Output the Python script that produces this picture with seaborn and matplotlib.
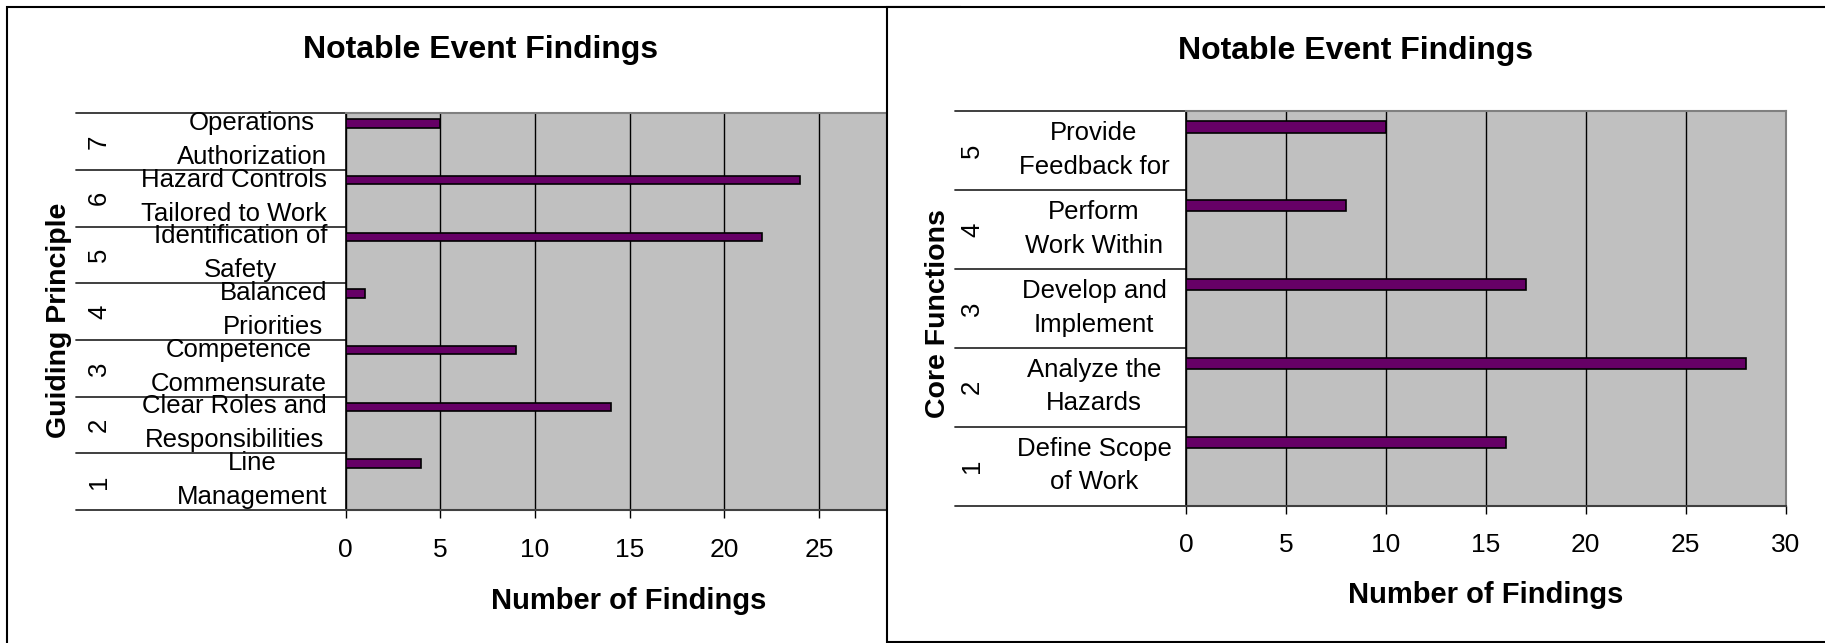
import pandas as pd
import matplotlib
matplotlib.use("Agg")
import matplotlib.pyplot as plt
import seaborn as sns
from matplotlib.patches import Rectangle
from matplotlib.transforms import blended_transform_factory

# left chart: guiding principles
gp_ids = [7, 6, 5, 4, 3, 2, 1]
gp_names = ["Operations\nAuthorization", "Hazard Controls\nTailored to Work",
            "Identification of\nSafety", "Balanced\nPriorities",
            "Competence\nCommensurate", "Clear Roles and\nResponsibilities",
            "Line\nManagement"]
gp_counts = [5, 24, 22, 1, 9, 14, 4]
gp_ticks = [0, 5, 10, 15, 20, 25]

# right chart: core functions
cf_ids = [5, 4, 3, 2, 1]
cf_names = ["Provide\nFeedback for", "Perform\nWork Within",
            "Develop and\nImplement", "Analyze the\nHazards",
            "Define Scope\nof Work"]
cf_counts = [10, 8, 17, 28, 16]
cf_ticks = [0, 5, 10, 15, 20, 25, 30]

sns.set_style("white")
plt.rcParams['font.family'] = ['Liberation Sans', 'DejaVu Sans']
plt.rcParams['text.color'] = 'black'
plt.rcParams['axes.labelcolor'] = 'black'
plt.rcParams['xtick.color'] = 'black'

W, H = 1825, 643
fig = plt.figure(figsize=(W / 100, H / 100), dpi=100)


def px_box(x0, y0, x1, y1):
    return [x0 / W, 1 - y1 / H, (x1 - x0) / W, (y1 - y0) / H]


# panel frames (right panel sits on top of the left one)
fig.patches.append(Rectangle((7.3 / W, -0.05), (960 - 7.3) / W, 1.05 - 6.7 / H,
                             transform=fig.transFigure, fc='white', ec='black',
                             lw=1.5, zorder=-1))
fig.patches.append(Rectangle((887 / W, 1 - 641.7 / H), (1900 - 887) / W, (641.7 - 6.7) / H,
                             transform=fig.transFigure, fc='white', ec='black',
                             lw=1.5, zorder=0.5))


def draw_panel(ax, ids, names, counts, ticks, xmax, ylabel,
               sep_x0, num_x, name_x, name_ha, name_dy, title_x, title_y,
               xlab_y, ylab_x, ylab_y, bar_top):
    df = pd.DataFrame({"id": ids, "count": counts})
    sns.barplot(data=df, x="count", y="id", order=ids, orient="y",
                color="#660066", saturation=1, width=0.145,
                edgecolor="black", linewidth=1.2, ax=ax, zorder=3)
    for p in ax.patches:
        p.set_y(p.get_y() - (0.5 - bar_top))
    ax.set_facecolor("#C0C0C0")
    ax.set_xlim(0, xmax)
    ax.set_ylim(len(ids) - 0.5, -0.5)
    ax.set_xticks(ticks)
    ax.xaxis.grid(True, color="black", lw=1)
    ax.set_axisbelow(True)
    ax.tick_params(axis="x", direction="out", length=6, width=1,
                   color="black", labelsize=19, pad=14, bottom=True)
    ax.set_yticks([])
    ax.set_ylabel("")
    for s in ["top", "right"]:
        ax.spines[s].set_color("#808080")
        ax.spines[s].set_linewidth(1.5)
    ax.spines["bottom"].set_color("#404040")
    ax.spines["bottom"].set_linewidth(1.5)
    ax.spines["left"].set_color("black")
    ax.spines["left"].set_linewidth(1.2)

    tr = blended_transform_factory(fig.transFigure, ax.transData)
    for k in range(len(ids) + 1):
        ax.plot([sep_x0 / W, ax.get_position().x0], [k - 0.5, k - 0.5],
                transform=tr, color="#303030", lw=1.3, clip_on=False)
    for k, (i, name) in enumerate(zip(ids, names)):
        ax.text(num_x / W, k, str(i), transform=tr, rotation=90,
                ha="center", va="center", fontsize=18.5)
        ax.text(name_x / W, k + name_dy, name, transform=tr, ha=name_ha,
                va="center", multialignment="center", fontsize=18.5,
                linespacing=1.52)

    ax.set_title("Notable Event Findings", fontsize=23, fontweight="bold",
                 x=title_x, y=title_y, va="center", pad=0)
    ax.set_xlabel("Number of Findings", fontsize=21, fontweight="bold")
    ax.xaxis.set_label_coords(0.5, xlab_y)
    ax.xaxis.label.set_va("center")
    ax.set_ylabel(ylabel, fontsize=20.5, fontweight="bold")
    ax.yaxis.set_label_coords(ylab_x, ylab_y)
    ax.yaxis.label.set_va("center")


ax1 = fig.add_axes(px_box(345.7, 113.3, 887, 510), zorder=0)
draw_panel(ax1, gp_ids, gp_names, gp_counts, gp_ticks, 28.6, "Guiding Principle",
           sep_x0=75.7, num_x=99, name_x=327, name_ha="right", name_dy=-0.03,
           title_x=0.25, title_y=1.16, xlab_y=-0.23,
           ylab_x=-0.53, ylab_y=0.477, bar_top=0.18)
ax1.xaxis.label.set_x(0.5225)

ax2 = fig.add_axes(px_box(1186, 111, 1785.5, 505.7), zorder=1)
draw_panel(ax2, cf_ids, cf_names, cf_counts, cf_ticks, 30, "Core Functions",
           sep_x0=955, num_x=972, name_x=1094, name_ha="center", name_dy=-0.01,
           title_x=0.2836, title_y=1.152, xlab_y=-0.226,
           ylab_x=-0.413, ylab_y=0.486, bar_top=0.2)

fig.savefig("out.png", dpi=100)
